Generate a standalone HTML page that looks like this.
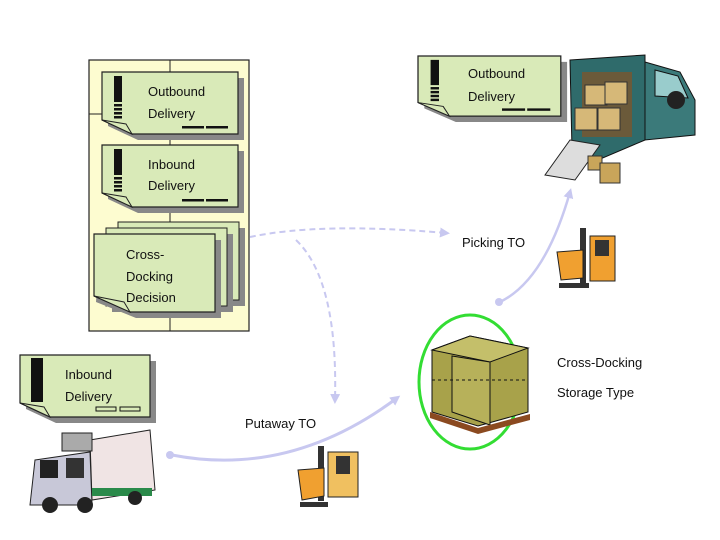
<!DOCTYPE html>
<html><head><meta charset="utf-8"><style>
html,body{margin:0;padding:0;background:#fff;width:720px;height:540px;overflow:hidden}
text{font-family:"Liberation Sans",sans-serif;fill:#111}
</style></head><body>
<svg width="720" height="540" viewBox="0 0 720 540" xmlns="http://www.w3.org/2000/svg">
<defs>
<marker id="ah" markerWidth="10" markerHeight="10" refX="6" refY="5" orient="auto" markerUnits="userSpaceOnUse"><path d="M0,0 L10,5 L0,10 z" fill="#c8c8f0"/></marker>
<g id="doc">
<!-- w 136 h 62 -->
<path d="M6,6 h136 v62 h-106 l-30,-14 z" fill="#888"/>
<path d="M0,0 h136 v62 h-106 l-30,-14 z" fill="#d9eab8" stroke="#222" stroke-width="1.2"/>
<path d="M0,48 l30,14 l-6,-10 z" fill="#d9eab8" stroke="#222" stroke-width="1"/>
<rect x="12" y="4" width="8" height="26" fill="#111"/>
<rect x="12" y="32" width="8" height="2.5" fill="#111"/><rect x="12" y="36" width="8" height="2.5" fill="#111"/><rect x="12" y="40" width="8" height="2.5" fill="#111"/><rect x="12" y="44" width="8" height="2.5" fill="#111"/>
<rect x="80" y="54" width="22" height="2.5" fill="#111"/><rect x="104" y="54" width="22" height="2.5" fill="#111"/>
</g>
</defs>

<!-- yellow panel -->
<rect x="89" y="60" width="160" height="271" fill="#fdfcd0" stroke="#222" stroke-width="1.2"/>
<line x1="170" y1="60" x2="170" y2="331" stroke="#222"/>
<line x1="89" y1="114" x2="102" y2="114" stroke="#222"/>

<use href="#doc" x="102" y="72"/>
<text x="148" y="96" font-size="13">Outbound</text>
<text x="148" y="118" font-size="13">Delivery</text>
<use href="#doc" x="102" y="145"/>
<text x="148" y="169" font-size="13">Inbound</text>
<text x="148" y="190" font-size="13">Delivery</text>

<!-- stack -->
<rect x="124" y="228" width="121" height="78" fill="#888"/>
<rect x="118" y="222" width="121" height="78" fill="#d9eab8" stroke="#222"/>
<rect x="112" y="234" width="121" height="78" fill="#888"/>
<rect x="106" y="228" width="121" height="78" fill="#d9eab8" stroke="#222"/>
<path d="M100,240 h121 v78 h-85 l-40,-16 z" fill="#888"/>
<path d="M94,234 h121 v78 h-85 l-36,-16 z" fill="#d9eab8" stroke="#222" stroke-width="1.2"/>
<path d="M94,296 l36,16 l-6,-10 z" fill="#d9eab8" stroke="#222"/>
<text x="126" y="259" font-size="13">Cross-</text>
<text x="126" y="281" font-size="13">Docking</text>
<text x="126" y="302" font-size="13">Decision</text>

<!-- top right doc -->
<g transform="translate(418,56) scale(1.05,0.97)"><use href="#doc"/></g>
<text x="468" y="78" font-size="13">Outbound</text>
<text x="468" y="101" font-size="13">Delivery</text>

<!-- truck top right -->
<polygon points="570,60 645,55 645,140 598,160 572,150" fill="#2f6b6b" stroke="#111"/>
<polygon points="645,62 680,72 695,100 695,135 645,140" fill="#3b7a7a" stroke="#111"/>
<polygon points="655,70 678,76 688,98 655,96" fill="#9cc" stroke="#111"/>
<rect x="582" y="72" width="50" height="65" fill="#6b5a3a"/>
<rect x="585" y="85" width="22" height="20" fill="#d6b878" stroke="#333"/>
<rect x="605" y="82" width="22" height="22" fill="#d6b878" stroke="#333"/>
<rect x="575" y="108" width="22" height="22" fill="#d6b878" stroke="#333"/>
<rect x="598" y="108" width="22" height="22" fill="#d6b878" stroke="#333"/>
<polygon points="570,140 600,145 575,180 545,175" fill="#ddd" stroke="#222"/>
<circle cx="676" cy="100" r="9" fill="#222"/>
<rect x="588" y="156" width="14" height="14" fill="#c9a55a" stroke="#333"/>
<rect x="600" y="163" width="20" height="20" fill="#c9a55a" stroke="#333"/>

<!-- connectors -->
<path d="M250,237 Q320,222 446,233" fill="none" stroke="#c8c8f0" stroke-width="2" stroke-dasharray="6,4" marker-end="url(#ah)"/>
<path d="M296,240 Q338,280 335,400" fill="none" stroke="#c8c8f0" stroke-width="2" stroke-dasharray="6,4" marker-end="url(#ah)"/>
<path d="M500,302 Q545,280 570,192" fill="none" stroke="#c8c8f0" stroke-width="2.5" marker-end="url(#ah)"/>
<circle cx="499" cy="302" r="4" fill="#c8c8f0"/>
<path d="M172,455 Q290,478 397,398" fill="none" stroke="#c8c8f0" stroke-width="3" marker-end="url(#ah)"/>
<circle cx="170" cy="455" r="4" fill="#c8c8f0"/>

<text x="462" y="247" font-size="13">Picking TO</text>
<text x="245" y="428" font-size="13">Putaway TO</text>

<!-- forklift top -->
<g transform="translate(555,228)">
<rect x="25" y="0" width="6" height="55" fill="#333"/>
<rect x="35" y="8" width="25" height="45" fill="#f0a030" stroke="#222"/>
<rect x="40" y="12" width="14" height="16" fill="#333"/>
<polygon points="2,24 28,22 28,50 6,52" fill="#f0a030" stroke="#222"/>
<rect x="4" y="55" width="30" height="5" fill="#333"/>
</g>

<!-- pallet + circle -->
<ellipse cx="470" cy="382" rx="51" ry="67" fill="none" stroke="#33dd33" stroke-width="3"/>
<polygon points="432,350 470,336 528,348 528,412 478,426 432,412" fill="#a8a24a" stroke="#111"/>
<polygon points="432,350 470,336 528,348 490,362" fill="#c4bf6a" stroke="#111"/>
<polygon points="452,356 490,362 490,425 452,412" fill="#b7b15a" stroke="#111"/>
<line x1="432" y1="380" x2="528" y2="380" stroke="#111" stroke-dasharray="3,3"/>
<polygon points="430,412 478,428 530,414 530,420 478,434 430,418" fill="#8b4a20"/>
<text x="557" y="367" font-size="13">Cross-Docking</text>
<text x="557" y="397" font-size="13">Storage Type</text>

<!-- bottom left doc -->
<path d="M26,361 h130 v62 h-100 l-30,-14 z" fill="#888"/>
<path d="M20,355 h130 v62 h-100 l-30,-14 z" fill="#d9eab8" stroke="#222" stroke-width="1.2"/>
<path d="M20,403 l30,14 l-6,-10 z" fill="#d9eab8" stroke="#222"/>
<rect x="31" y="358" width="12" height="44" fill="#111"/>
<rect x="96" y="407" width="20" height="4" fill="none" stroke="#111"/><rect x="120" y="407" width="20" height="4" fill="none" stroke="#111"/>
<text x="65" y="379" font-size="13">Inbound</text>
<text x="65" y="401" font-size="13">Delivery</text>

<!-- truck bottom left -->
<polygon points="90,440 150,430 155,490 92,500" fill="#f0e4e4" stroke="#222"/>
<rect x="62" y="433" width="30" height="18" fill="#aaa" stroke="#222"/>
<polygon points="35,460 90,452 92,505 30,505" fill="#c8c8d8" stroke="#222"/>
<rect x="40" y="460" width="18" height="18" fill="#222"/>
<rect x="66" y="458" width="18" height="20" fill="#333"/>
<rect x="92" y="488" width="60" height="8" fill="#2a8a4a"/>
<circle cx="50" cy="505" r="8" fill="#222"/><circle cx="85" cy="505" r="8" fill="#222"/><circle cx="135" cy="498" r="7" fill="#222"/>

<!-- forklift bottom -->
<g transform="translate(296,446)">
<rect x="22" y="0" width="6" height="55" fill="#333"/>
<rect x="32" y="6" width="30" height="45" fill="#f0c060" stroke="#222"/>
<rect x="40" y="10" width="14" height="18" fill="#333"/>
<polygon points="2,24 28,22 28,50 6,54" fill="#f0a030" stroke="#222"/>
<rect x="4" y="56" width="28" height="5" fill="#333"/>
</g>
</svg>
</body></html>
